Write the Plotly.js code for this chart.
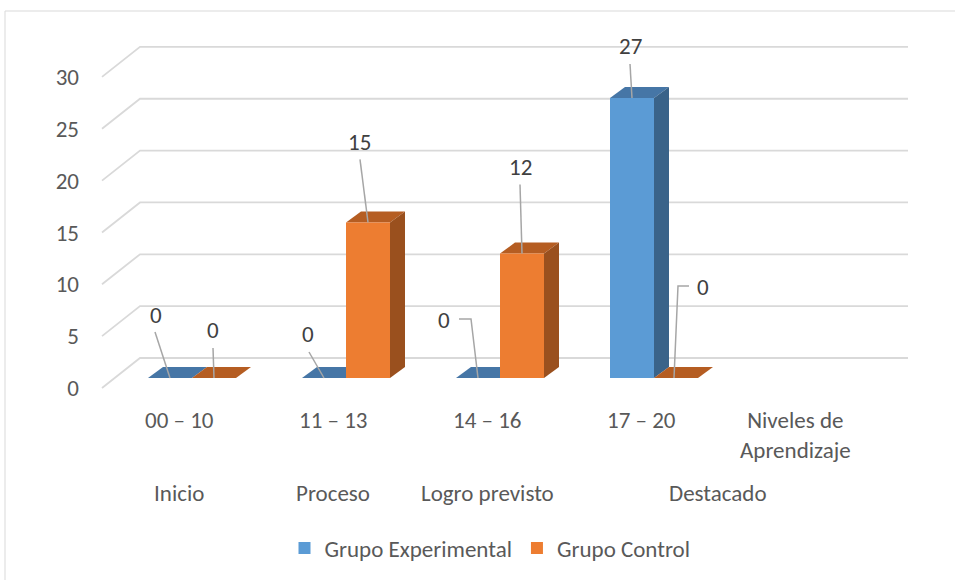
<!DOCTYPE html>
<html>
<head>
<meta charset="utf-8">
<script src="https://cdn.plot.ly/plotly-3.0.1.min.js"></script>
<style>html,body{margin:0;padding:0;background:#fff;}#chart{width:955px;height:580px;}</style>
</head>
<body>
<div id="chart"></div>
<script>
// ---------- data ----------
const categories = ["00 – 10", "11 – 13", "14 – 16", "17 – 20", "Niveles de<br>Aprendizaje"];
const groupLabels = ["Inicio", "Proceso", "Logro previsto", "Destacado"];
const seriesNames = ["Grupo Experimental", "Grupo Control"];
const experimental = [0, 0, 0, 27];
const control = [0, 15, 12, 0];
const yTicks = [0, 5, 10, 15, 20, 25, 30];

// ---------- geometry / style (pixels) ----------
const W = 955, H = 580, ML = 100;
const CAT_PX = 154, CAT0_PX = 192, UNIT_PX = 10.37;
const BAR0_PY = 378, FRONT0_PY = 388;
const BAR_W_PX = 44, DEPTH_DX = 15, DEPTH_DY = 11;
const WALL_DX = 38, WALL_DY = 30, FRONT_LEFT_PX = 102, BACK_RIGHT_PX = 908;
const FRONT_SHIFT_PX = -13;
const groupSpans = [[0, 0], [1, 1], [2, 2], [3, 4]];
const FONT = "Carlito, Lato, sans-serif";
const TXT = "#595959", LBL = "#404040", GRID = "#D9D9D9", LEAD = "#A6A6A6";
const FS = 23;

const dxU = px => px / CAT_PX;
const dyU = px => px / UNIT_PX;
const xAt = px => (px - CAT0_PX) / CAT_PX;

const styles = [
  {front: "#5B9BD5", top: "#4676A6", side: "#3A6389", offsetPx: -BAR_W_PX},
  {front: "#ED7D31", top: "#B55D22", side: "#9A501E", offsetPx: 0}
];
const seriesValues = [experimental, control];

// label centre offsets and leader paths, relative to bar anchor (px, y down)
const labelOffsets = [
  [[-14, -63], [-16, -44], [-34, -58], [-2, -52]],
  [[-1, -48], [-9, -80], [-2, -87], [27, -91]]
];
const leaderPaths = [
  [[[-15, -46], [0, 0]], [[-15, -26], [0, 0]], [[-19, -59], [-7, -59], [0, 0]], [[-2, -34], [0, 0]]],
  [[[-1, -30], [0, 0]], [[-8, -63], [0, 0]], [[-2, -69], [0, 0]], [[13, -92], [2, -92], [-2, 0]]]
];

const traces = [];

// back wall + left wall gridlines (front-plane axis y)
const gx = [], gy = [];
yTicks.forEach(v => {
  gx.push(xAt(FRONT_LEFT_PX), xAt(FRONT_LEFT_PX + WALL_DX), xAt(BACK_RIGHT_PX), null);
  gy.push(v, v + dyU(WALL_DY), v + dyU(WALL_DY), null);
});
traces.push({type: "scatter", mode: "lines", x: gx, y: gy, xaxis: "x", yaxis: "y",
  line: {color: GRID, width: 1.8}, showlegend: false, hoverinfo: "skip"});

// top and side faces (y2, bar plane)
seriesValues.forEach((vals, s) => {
  const st = styles[s];
  vals.forEach((v, i) => {
    const xl = i + dxU(st.offsetPx), xr = xl + dxU(BAR_W_PX);
    const dX = dxU(DEPTH_DX), dY = dyU(DEPTH_DY);
    traces.push({type: "scatter", mode: "lines", fill: "toself", fillcolor: st.top,
      x: [xl, xr, xr + dX, xl + dX, xl], y: [v, v, v + dY, v + dY, v],
      line: {width: 0, color: st.top}, xaxis: "x", yaxis: "y2", showlegend: false, hoverinfo: "skip"});
    if (v > 0) {
      traces.push({type: "scatter", mode: "lines", fill: "toself", fillcolor: st.side,
        x: [xr, xr, xr + dX, xr + dX, xr], y: [0, v, v + dY, dY, 0],
        line: {width: 0, color: st.side}, xaxis: "x", yaxis: "y2", showlegend: false, hoverinfo: "skip"});
    }
  });
});

// front faces (bars) on y3
seriesValues.forEach((vals, s) => {
  const st = styles[s];
  traces.push({type: "bar", name: seriesNames[s], x: vals.map((_, i) => i), y: vals,
    width: dxU(BAR_W_PX), offset: dxU(st.offsetPx),
    marker: {color: st.front, line: {width: 0}}, xaxis: "x", yaxis: "y3", hoverinfo: "skip"});
});

// leader lines + data labels
const annotations = [];
seriesValues.forEach((vals, s) => {
  const st = styles[s];
  vals.forEach((v, i) => {
    const ax = i + dxU(st.offsetPx + BAR_W_PX / 2);
    const path = leaderPaths[s][i];
    traces.push({type: "scatter", mode: "lines",
      x: path.map(p => ax + dxU(p[0])), y: path.map(p => v - dyU(p[1])),
      line: {color: LEAD, width: 1.5}, xaxis: "x", yaxis: "y3", showlegend: false, hoverinfo: "skip"});
    const off = labelOffsets[s][i];
    annotations.push({xref: "x", yref: "y3", x: ax + dxU(off[0]), y: v - dyU(off[1]),
      text: String(v), showarrow: false, xanchor: "center", yanchor: "middle",
      font: {family: FONT, size: FS, color: LBL}});
  });
});

// category labels (front plane)
categories.forEach((c, i) => {
  annotations.push({xref: "x", yref: "paper", x: i + dxU(FRONT_SHIFT_PX), y: 1 - 404 / H,
    text: c, showarrow: false, xanchor: "center", yanchor: "top", align: "center",
    font: {family: FONT, size: FS, color: TXT}});
});
groupLabels.forEach((g, k) => {
  const sp = groupSpans[k];
  annotations.push({xref: "x", yref: "paper", x: (sp[0] + sp[1]) / 2 + dxU(FRONT_SHIFT_PX), y: 1 - 493 / H,
    text: g, showarrow: false, xanchor: "center", yanchor: "middle",
    font: {family: FONT, size: FS, color: TXT}});
});

const xr = [(ML - CAT0_PX) / CAT_PX, (W - CAT0_PX) / CAT_PX];
const yFront = [(FRONT0_PY - H) / UNIT_PX, FRONT0_PY / UNIT_PX];
const yBar = [(BAR0_PY - H) / UNIT_PX, BAR0_PY / UNIT_PX];

const hidden = {showgrid: false, zeroline: false, showticklabels: false, showline: false, ticks: "", fixedrange: true};

const layout = {
  width: W, height: H,
  margin: {l: ML, r: 0, t: 0, b: 0},
  paper_bgcolor: "#fff", plot_bgcolor: "rgba(0,0,0,0)",
  font: {family: FONT, size: FS, color: TXT},
  hovermode: false,
  barmode: "overlay",
  xaxis: Object.assign({}, hidden, {range: xr, domain: [0, 1]}),
  yaxis: {range: yFront, tickvals: yTicks, ticktext: yTicks.map(String), showgrid: false, zeroline: false,
    showline: false, ticks: "", ticklabelstandoff: 20, tickfont: {family: FONT, size: FS, color: TXT}, fixedrange: true},
  yaxis2: Object.assign({}, hidden, {range: yBar, overlaying: "y", anchor: "x"}),
  yaxis3: Object.assign({}, hidden, {range: yBar, overlaying: "y", anchor: "x"}),
  showlegend: true,
  legend: {orientation: "h", x: (490 - ML) / (W - ML), xanchor: "center", y: 1 - 548 / H, yanchor: "middle",
    font: {family: FONT, size: FS, color: TXT}, bgcolor: "rgba(0,0,0,0)", traceorder: "normal"},
  annotations: annotations,
  shapes: [{type: "rect", xref: "paper", yref: "paper", x0: (5 - ML) / (W - ML), x1: (965 - ML) / (W - ML),
    y0: 1 - 11 / H, y1: -0.05, line: {color: GRID, width: 1}, fillcolor: "rgba(0,0,0,0)", layer: "below"}]
};

Plotly.newPlot("chart", traces, layout, {displayModeBar: false, staticPlot: true});
</script>
</body>
</html>
